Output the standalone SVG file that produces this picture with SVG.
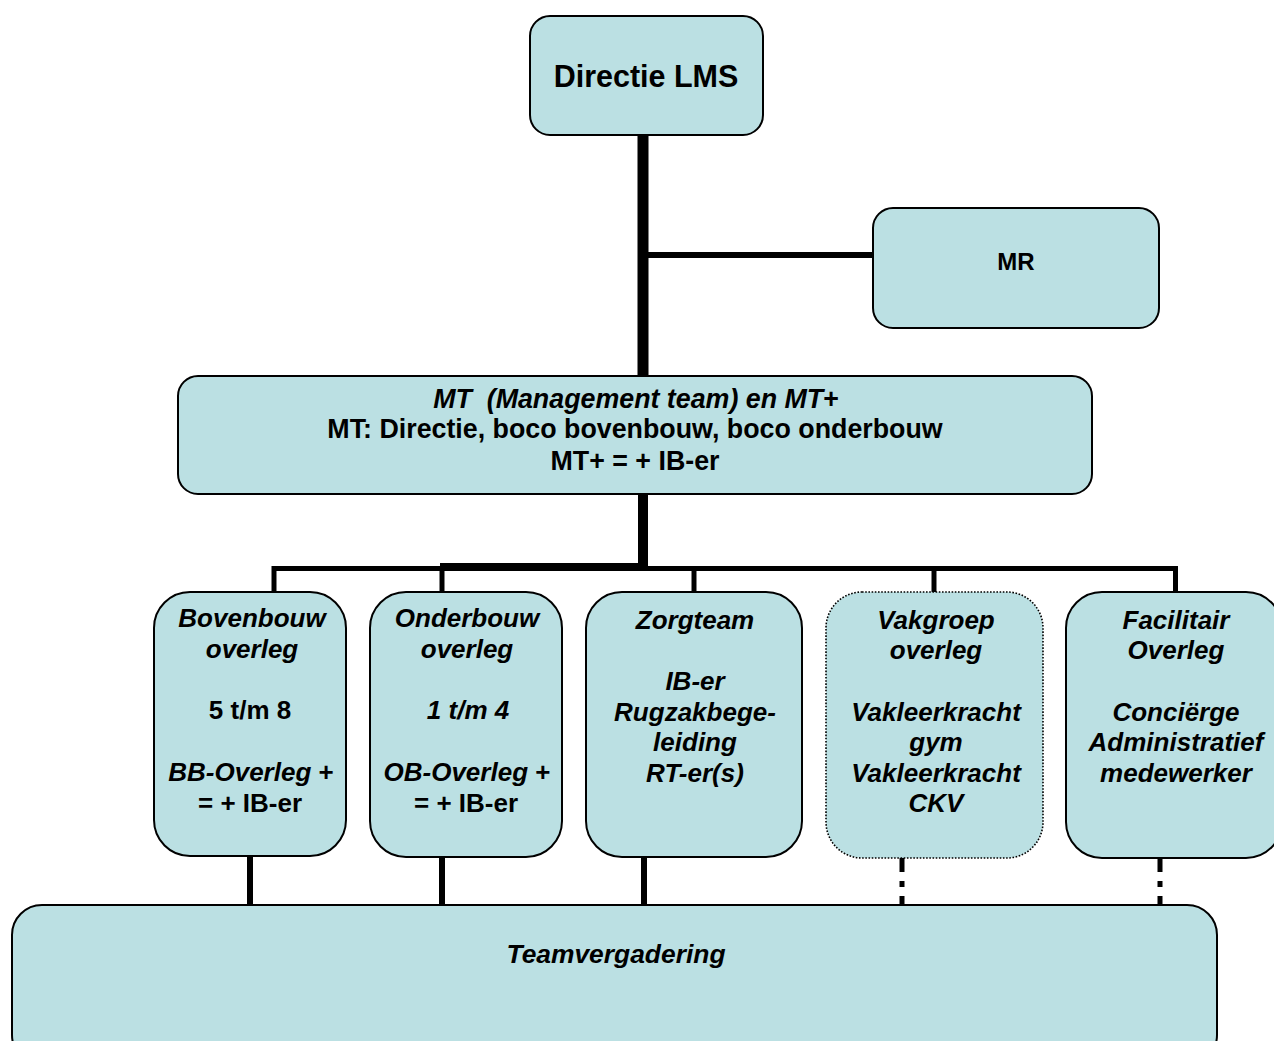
<svg xmlns="http://www.w3.org/2000/svg" width="1274" height="1041" viewBox="0 0 1274 1041">
<style>
.box{fill:#BBE0E3;stroke:#000;stroke-width:2}
.dot{fill:#BBE0E3;stroke:#000;stroke-width:1.6;stroke-dasharray:1.6 1.6}
text{font-family:"Liberation Sans",Arial,sans-serif;font-weight:bold;font-size:26px;text-anchor:middle;fill:#000}
.i{font-style:italic}
.n{font-style:normal}
.m{font-size:26.8px}
.c{stroke:#000;fill:none}
</style>
<rect width="1274" height="1041" fill="#fff"/>
<g id="connectors">
<line class="c" x1="643" y1="134" x2="643" y2="377" stroke-width="11"/>
<line class="c" x1="648" y1="255" x2="874" y2="255" stroke-width="6"/>
<line class="c" x1="643" y1="493" x2="643" y2="571" stroke-width="10"/>
<line class="c" x1="272" y1="568.5" x2="1178" y2="568.5" stroke-width="5"/>
<line class="c" x1="440" y1="567" x2="648" y2="567" stroke-width="8"/>
<line class="c" x1="274" y1="566" x2="274" y2="593" stroke-width="5"/>
<line class="c" x1="442" y1="566" x2="442" y2="593" stroke-width="5"/>
<line class="c" x1="694" y1="566" x2="694" y2="593" stroke-width="5"/>
<line class="c" x1="934" y1="566" x2="934" y2="593" stroke-width="5"/>
<line class="c" x1="1175.5" y1="566" x2="1175.5" y2="593" stroke-width="5"/>
<line class="c" x1="250" y1="855" x2="250" y2="906" stroke-width="6"/>
<line class="c" x1="442" y1="856" x2="442" y2="906" stroke-width="6"/>
<line class="c" x1="644" y1="856" x2="644" y2="906" stroke-width="6"/>
<line class="c" x1="902" y1="857" x2="902" y2="906" stroke-width="5" stroke-dasharray="15 9 6 9"/>
<line class="c" x1="1160" y1="857" x2="1160" y2="906" stroke-width="5" stroke-dasharray="15 9 6 9"/>
</g>
<g id="directie">
<rect class="box" x="530" y="16" width="233" height="119" rx="20"/>
<text x="646" y="87" style="font-size:30.5px">Directie LMS</text>
</g>
<g id="mr">
<rect class="box" x="873" y="208" width="286" height="120" rx="20"/>
<text x="1016" y="270" style="font-size:24px">MR</text>
</g>
<g id="mt">
<rect class="box" x="178" y="376" width="914" height="118" rx="20"/>
<text x="636" y="408" class="i m" xml:space="preserve">MT  (Management team) en MT<tspan class="n">+</tspan></text>
<text x="635" y="438" class="m">MT: Directie, boco bovenbouw, boco onderbouw</text>
<text x="635" y="470" class="m">MT+ = + IB-er</text>
</g>
<g id="bovenbouw">
<rect class="box" x="154" y="592" width="192" height="264" rx="36"/>
<text x="252" y="627" class="i">Bovenbouw</text>
<text x="252" y="658" class="i">overleg</text>
<text x="250" y="719">5 t/m 8</text>
<text x="251" y="781"><tspan class="i">BB-Overleg</tspan> +</text>
<text x="250" y="812">= + IB-er</text>
</g>
<g id="onderbouw">
<rect class="box" x="370" y="592" width="192" height="265" rx="36"/>
<text x="467" y="627" class="i">Onderbouw</text>
<text x="467" y="658" class="i">overleg</text>
<text x="468" y="719" class="i">1 t/m 4</text>
<text x="467" y="781"><tspan class="i">OB-Overleg</tspan> +</text>
<text x="466" y="812">= + IB-er</text>
</g>
<g id="zorgteam">
<rect class="box" x="586" y="592" width="216" height="265" rx="36"/>
<text x="695" y="629" class="i">Zorgteam</text>
<text x="695" y="690" class="i">IB-er</text>
<text x="695" y="721" class="i">Rugzakbege-</text>
<text x="695" y="751" class="i">leiding</text>
<text x="695" y="782" class="i">RT-er(s)</text>
</g>
<g id="vakgroep">
<rect class="dot" x="826" y="592" width="217" height="266" rx="36"/>
<text x="936" y="629" class="i">Vakgroep</text>
<text x="936" y="659" class="i">overleg</text>
<text x="936" y="721" class="i">Vakleerkracht</text>
<text x="936" y="751" class="i">gym</text>
<text x="936" y="782" class="i">Vakleerkracht</text>
<text x="936" y="812" class="i">CKV</text>
</g>
<g id="facilitair">
<rect class="box" x="1066" y="592" width="216" height="266" rx="36"/>
<text x="1176" y="629" class="i">Facilitair</text>
<text x="1176" y="659" class="i">Overleg</text>
<text x="1176" y="721" class="i">Conciërge</text>
<text x="1176" y="751" class="i">Administratief</text>
<text x="1176" y="782" class="i">medewerker</text>
</g>
<g id="teamvergadering">
<rect class="box" x="12" y="905" width="1205" height="160" rx="30"/>
<text x="616" y="963" class="i" style="font-size:26.4px">Teamvergadering</text>
</g>
</svg>
